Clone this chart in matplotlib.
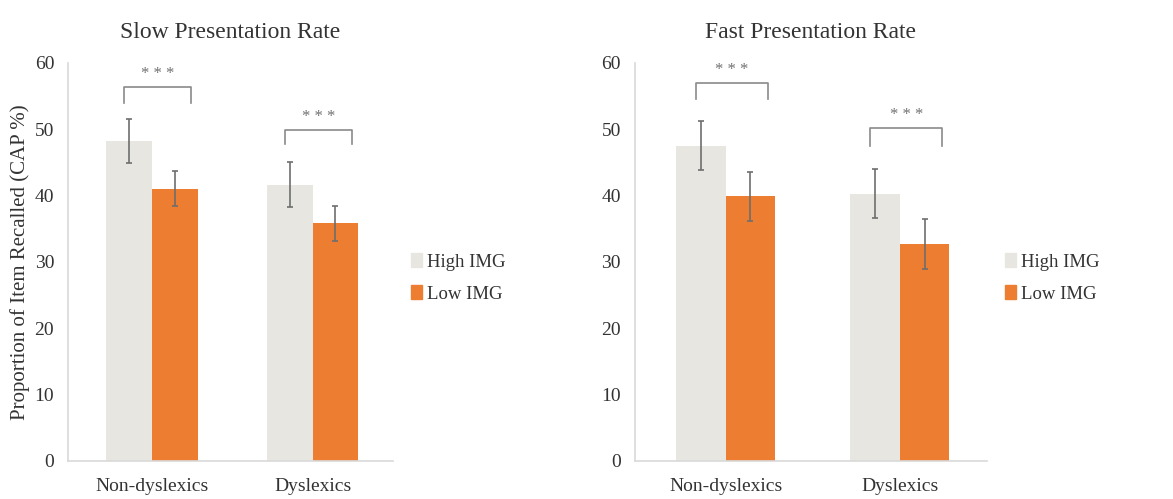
import numpy as np
import matplotlib
matplotlib.use("Agg")
from matplotlib import pyplot as plt
from matplotlib.patches import Patch

# Data
groups = ["Non-dyslexics", "Dyslexics"]
seriesNames = ["High IMG", "Low IMG"]
slowHigh = [48.2, 41.6]
slowLow = [41.0, 35.8]
slowHighErr = [3.3, 3.4]
slowLowErr = [2.65, 2.6]
fastHigh = [47.5, 40.3]
fastLow = [39.9, 32.7]
fastHighErr = [3.7, 3.65]
fastLowErr = [3.7, 3.7]
# significance brackets: (group, top of bracket, tip)
slowSig = [(0, 56.4, 54.0), (1, 49.9, 47.8)]
fastSig = [(0, 57.0, 54.5), (1, 50.2, 47.5)]

greyCol = "#E7E6E1"
orangeCol = "#ED7D31"
textCol = "#333333"
axisCol = "#D9D9D9"
errCol = "#6E6E6E"

plt.rcParams['font.family'] = ['Liberation Serif', 'DejaVu Serif']

fig = plt.figure(figsize=(11.73, 4.99), dpi=100)
axL = fig.add_axes([0.058, 0.0762, 0.277, 0.798])
axR = fig.add_axes([0.5413, 0.0762, 0.300, 0.798])


def draw_panel(ax, title, high, low, highErr, lowErr, sig):
    x = np.arange(len(groups))
    w = 0.285
    ax.bar(x - w/2, high, w, color=greyCol, zorder=2)
    ax.bar(x + w/2, low, w, color=orangeCol, zorder=2)
    ax.errorbar(x - w/2, high, yerr=highErr, fmt="none", ecolor=errCol,
                elinewidth=1.2, capsize=2.5, capthick=1.2, zorder=3)
    ax.errorbar(x + w/2, low, yerr=lowErr, fmt="none", ecolor=errCol,
                elinewidth=1.2, capsize=2.5, capthick=1.2, zorder=3)
    for g, top, tip in sig:
        x0 = g - 0.17
        x1 = g + 0.245
        ax.plot([x0, x0, x1, x1], [tip, top, top, tip], color="#8A8A8A",
                lw=1.2, zorder=3)
        ax.text((x0 + x1)/2, top + 0.7, "* * *", ha="center", va="bottom",
                color="#707070", fontsize=12)
    ax.set_xlim(-0.52, 1.5)
    ax.set_ylim(0, 60)
    ax.set_yticks(range(0, 61, 10))
    ax.set_xticks(x)
    ax.set_xticklabels(groups)
    for s in ["top", "right"]:
        ax.spines[s].set_visible(False)
    for s in ["left", "bottom"]:
        ax.spines[s].set_color(axisCol)
        ax.spines[s].set_linewidth(1.2)
    ax.tick_params(axis="both", length=0, labelsize=14, colors=textCol, pad=10)
    ax.tick_params(axis="x", pad=12)
    ax.set_title(title, fontsize=17, color=textCol, pad=18)
    handles = [Patch(color=greyCol), Patch(color=orangeCol)]
    ax.legend(handles, seriesNames, loc="center left", bbox_to_anchor=(1.005, 0.46),
              frameon=False, fontsize=13.5, handlelength=0.55, handleheight=0.8,
              handletextpad=0.3, labelspacing=0.75, labelcolor=textCol)


draw_panel(axL, "Slow Presentation Rate", slowHigh, slowLow, slowHighErr,
           slowLowErr, slowSig)
draw_panel(axR, "Fast Presentation Rate", fastHigh, fastLow, fastHighErr,
           fastLowErr, fastSig)
axL.set_ylabel("Proportion of Item Recalled (CAP %)", fontsize=15, color=textCol,
               labelpad=3)

fig.savefig("out.png", dpi=100)
